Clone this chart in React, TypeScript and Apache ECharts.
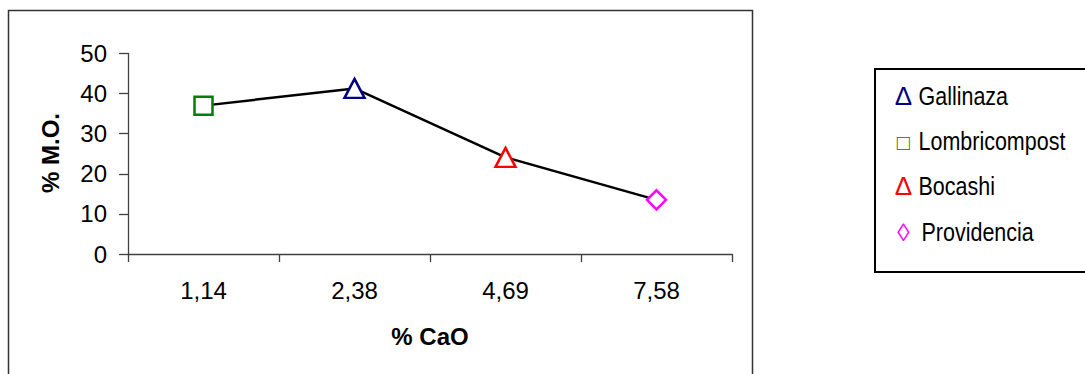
import React, { useEffect, useRef } from "react";
import * as echarts from "echarts";

// % CaO categories and % M.O. (organic matter) per amendment
const categories = ["1,14", "2,38", "4,69", "7,58"];
const amendments = ["Lombricompost", "Gallinaza", "Bocashi", "Providencia"];
const organicMatter = [37.0, 41.3, 24.1, 13.5];
const markerSymbols = ["rect", "triangle", "triangle", "diamond"];
const markerSizes: (number | number[])[] = [[18, 18], [20, 19], [20, 19], [19, 19]];
const markerColors = ["#008000", "#000080", "#FF0000", "#FF00FF"];

// legend entries (symbol glyph, colour, label)
const legendGlyphs = ["\u0394", "\u25A1", "\u0394", "\u25CA"];
const legendColors = ["#000080", "#008000", "#FF0000", "#FF00FF"];
const legendLabels = ["Gallinaza", "Lombricompost", "Bocashi", "Providencia"];

const yTicks = { min: 0, max: 50, interval: 10 };

export default function App() {
  const ref = useRef<HTMLDivElement>(null);

  useEffect(() => {
    if (!ref.current) return;
    const chart = echarts.init(ref.current, undefined, { renderer: "svg" });

    const font = "Arial, 'Liberation Sans', sans-serif";

    const legendItems: any[] = [];
    const baselines = [105, 150, 195, 241];
    const glyphSizes = [26, 22, 26, 25];
    legendLabels.forEach((label, i) => {
      const cy = baselines[i] - 9;
      legendItems.push({
        type: "text",
        x: 903.5,
        y: i === 1 ? cy + 1 : cy,
        style: {
          text: legendGlyphs[i],
          fill: legendColors[i],
          font: `${glyphSizes[i]}px ${font}`,
          align: "center",
          verticalAlign: "middle",
        },
      });
      legendItems.push({
        type: "text",
        x: i === 3 ? 921.5 : 918.5,
        y: cy,
        scaleX: 0.86,
        style: {
          text: label,
          fill: "#000",
          font: `25px ${font}`,
          align: "left",
          verticalAlign: "middle",
        },
      });
    });

    chart.setOption({
      animation: false,
      backgroundColor: "#fff",
      grid: { left: 128, right: 353, top: 53.5, bottom: 120, containLabel: false },
      xAxis: {
        type: "category",
        data: categories,
        boundaryGap: true,
        axisLine: { lineStyle: { color: "#404040", width: 1.3 } },
        axisTick: { show: true, length: 8, lineStyle: { color: "#404040", width: 1.3 } },
        axisLabel: { color: "#000", fontSize: 24, fontFamily: font, margin: 24 },
        splitLine: { show: false },
      },
      yAxis: {
        type: "value",
        min: yTicks.min,
        max: yTicks.max,
        interval: yTicks.interval,
        axisLine: { show: true, lineStyle: { color: "#404040", width: 1.3 } },
        axisTick: { show: true, length: 9, lineStyle: { color: "#404040", width: 1.3 } },
        axisLabel: { color: "#000", fontSize: 24, fontFamily: font, margin: 21 },
        splitLine: { show: false },
      },
      series: [
        {
          type: "line",
          data: organicMatter.map((v, i) => ({
            value: v,
            name: amendments[i],
            symbol: markerSymbols[i],
            symbolSize: markerSizes[i],
            itemStyle: { color: "#fff", borderColor: markerColors[i], borderWidth: 2.5 },
          })),
          showAllSymbol: true,
          lineStyle: { color: "#000", width: 2.5 },
          z: 2,
        },
      ],
      graphic: [
        {
          type: "rect",
          shape: { x: 8.5, y: 10.5, width: 744, height: 380 },
          style: { fill: "none", stroke: "#333", lineWidth: 1.5 },
          z: -1,
          silent: true,
        },
        {
          type: "text",
          x: 50,
          y: 153,
          rotation: Math.PI / 2,
          style: {
            text: "% M.O.",
            fill: "#000",
            font: `bold 24px ${font}`,
            align: "center",
            verticalAlign: "middle",
          },
        },
        {
          type: "text",
          x: 430,
          y: 336,
          style: {
            text: "% CaO",
            fill: "#000",
            font: `bold 24px ${font}`,
            align: "center",
            verticalAlign: "middle",
          },
        },
        {
          type: "rect",
          shape: { x: 875, y: 69, width: 215, height: 203 },
          style: { fill: "#fff", stroke: "#000", lineWidth: 2 },
          silent: true,
        },
        ...legendItems,
      ],
    });

    return () => chart.dispose();
  }, []);

  return (
    <div
      ref={ref}
      style={{ position: "fixed", left: 0, top: 0, width: 1085, height: 374, background: "#fff" }}
    />
  );
}
